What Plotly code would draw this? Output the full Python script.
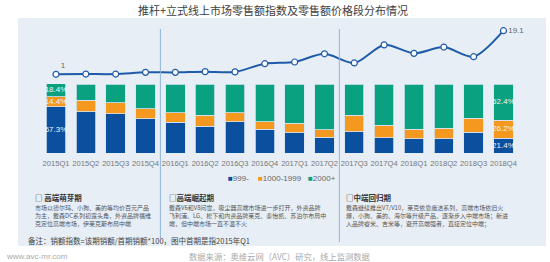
import plotly.graph_objects as go

W, H = 550, 262

# ---------------- data ----------------
quarters = ["2015Q1", "2015Q2", "2015Q3", "2015Q4", "2016Q1", "2016Q2", "2016Q3", "2016Q4",
            "2017Q1", "2017Q2", "2017Q3", "2017Q4", "2018Q1", "2018Q2", "2018Q3", "2018Q4"]
series_names = ["999-", "1000-1999", "2000+"]
share_low = [67.3, 60.0, 57.0, 49.3, 44.9, 39.0, 45.4, 34.2, 29.3, 23.0, 31.0, 22.0, 20.5, 20.5, 30.2, 21.4]
share_mid = [14.4, 16.6, 16.1, 15.1, 13.2, 16.0, 13.2, 11.2, 13.7, 10.7, 24.0, 18.5, 13.7, 15.1, 20.5, 26.2]
share_high = [18.4, 23.4, 26.9, 35.6, 41.9, 45.0, 41.4, 54.6, 57.0, 66.3, 45.0, 59.5, 65.8, 64.4, 49.3, 52.4]
sales_index = [1, 1.1, 1.1, 1.8, 1.8, 2.1, 2.0, 5.4, 6.1, 9.5, 5.7, 13.2, 9.7, 12.3, 8.3, 19.1]
labelled_bars = [0, 15]
labelled_points = [0, 15]

title = "推杆+立式线上市场零售额指数及零售额价格段分布情况"
stages = [
    ("□ 高端萌芽期", ["市场以德尔玛、小狗、美的等均价百元产品",
                    "为主，戴森DC系列初露头角，外资品牌福维",
                    "克定位高端市场，伊莱克斯布局中端"]),
    ("□高端崛起期", ["戴森V6和V8问世，吸尘器高端市场进一步打开，外资品牌",
                   "飞利浦、LG、松下和内资品牌莱克、泰怡凯、苏泊尔布局中",
                   "端，但中端市场一直不温不火"]),
    ("□中端回归期", ["戴森继续推出V7/V10，莱克依靠魔洁系列，高端市场依旧火",
                   "爆，小狗、美的、海尔等升级产品，逐渐步入中端市场；新进",
                   "入品牌睿米、吉米等，避开高端强者，直接定位中端；"]),
]
note = "备注：销额指数=该期销额/首期销额*100，图中首期是指2015年Q1"
site = "www.avc-mr.com"
source = "数据来源：奥维云网（AVC）研究，线上监测数据"

# ---------------- style ----------------
colors = ["#0b4f9f", "#f4981f", "#0aa181"]
line_color = "#1f5ba8"
CJK = "Noto Sans CJK SC, Noto Sans, Arial"

def px(x):
    return x / W

def py(y):
    return 1 - y / H

fig = go.Figure()

shares = [share_low, share_mid, share_high]
for name, vals, col in zip(series_names, shares, colors):
    fig.add_trace(go.Bar(
        x=quarters, y=vals, name=name, marker=dict(color=col, line=dict(color="#d6e4f2", width=0.8)),
        xaxis="x", yaxis="y", showlegend=False, hoverinfo="skip",
    ))

# segment labels for first and last bars (placed at segment midpoints)
lab_x, lab_y, lab_t = [], [], []
for i in labelled_bars:
    base = 0.0
    for vals in shares:
        lab_x.append(quarters[i])
        lab_y.append(base + vals[i] / 2)
        lab_t.append(f"{vals[i]:.1f}%")
        base += vals[i]
fig.add_trace(go.Scatter(
    x=lab_x, y=lab_y, mode="text", text=lab_t, textposition="middle center",
    textfont=dict(size=8, color="#eef6f6", family="Arial"), cliponaxis=False,
    xaxis="x", yaxis="y", showlegend=False, hoverinfo="skip",
))

pt_txt = [("1" if i == 0 else f"{v}") if i in labelled_points else "" for i, v in enumerate(sales_index)]
pt_pos = ["top right" if i == 0 else "middle right" for i in range(len(sales_index))]
fig.add_trace(go.Scatter(
    x=quarters, y=sales_index, mode="lines+markers+text",
    line=dict(color=line_color, width=2, shape="spline", smoothing=0.8),
    marker=dict(size=6, color="white", line=dict(color=line_color, width=1.2)),
    text=pt_txt, textposition=pt_pos, textfont=dict(size=8, color="#666", family="Arial"),
    cliponaxis=False,
    xaxis="x", yaxis="y2", showlegend=False, hoverinfo="skip",
))

# axes geometry
step = 29.83
x0 = 56 - step / 2
x1 = x0 + step * 16
idx_lo, idx_hi = -1.366, 21.46

shapes = [
    dict(type="rect", xref="paper", yref="paper", x0=px(18), x1=px(546), y0=py(246), y1=py(18),
         fillcolor="#e7eef6", line=dict(width=0), layer="below"),
    dict(type="line", xref="x", yref="paper", x0=3.5, x1=3.5, y0=py(238), y1=py(29),
         line=dict(color="#8fb5dc", width=1)),
    dict(type="line", xref="x", yref="paper", x0=9.5, x1=9.5, y0=py(242), y1=py(29),
         line=dict(color="#8fb5dc", width=1)),
]

annotations = []
def add_text(text, x, y, size, color, xanchor="left", bold=False, family=CJK, yanchor="middle", **kw):
    annotations.append(dict(
        text=f"<b>{text}</b>" if bold else text, x=px(x), y=py(y), xref="paper", yref="paper",
        xanchor=xanchor, yanchor=yanchor, showarrow=False, borderpad=0, align="left",
        font=dict(size=size, color=color, family=family), **kw))

add_text(title, 273, 10, 11, "#404040", xanchor="center")

# legend (manual)
leg_x = [227, 257, 307]
for name, col, lx in zip(series_names, colors, leg_x):
    add_text(f"<span style='color:{col}'>■</span>{name}", lx, 178, 8, "#666", family="Arial")

# stage boxes
box_x = [34, 168, 345]
for (head, lines), bx in zip(stages, box_x):
    add_text(head, bx, 197.5, 7.5, "#333", bold=True)
    add_text("<br>".join(lines), bx, 202, 6.0, "#555", yanchor="top")

add_text(note, 27, 240, 7.5, "#444")
add_text(site, 5, 256, 8, "#aaa", family="Arial")
add_text(source, 188, 256, 8.3, "#aaa")

fig.update_layout(
    width=W, height=H, margin=dict(l=0, r=0, t=0, b=0),
    paper_bgcolor="white", plot_bgcolor="rgba(0,0,0,0)",
    barmode="stack", bargap=0.35,
    font=dict(family=CJK),
    xaxis=dict(domain=[px(x0), px(x1)], anchor="y", type="category", range=[-0.5, 15.5],
               showgrid=False, showline=False, zeroline=False, ticks="", tickangle=0,
               ticklabelstandoff=4,
               tickfont=dict(size=7.6, color="#777", family="Arial")),
    yaxis=dict(domain=[py(153), py(84)], range=[0, 100], visible=False, fixedrange=True),
    yaxis2=dict(domain=[py(80), py(25)], range=[idx_lo, idx_hi], anchor="x", visible=False),
    shapes=shapes, annotations=annotations,
)

fig.write_html("out.html")
